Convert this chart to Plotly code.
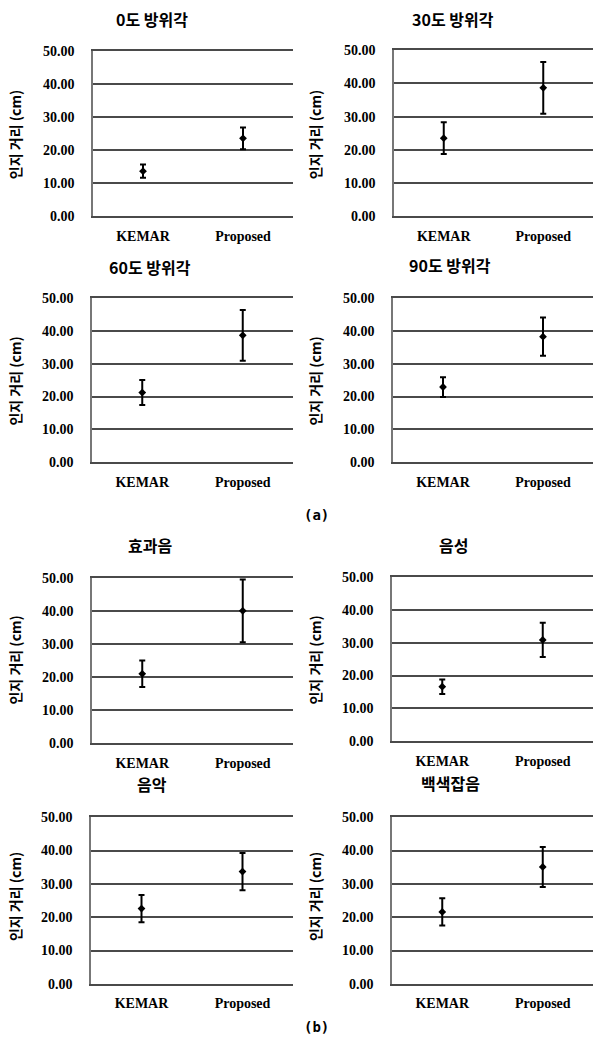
import plotly.graph_objects as go

# ---- data ----
titles = ["0도 방위각", "30도 방위각", "60도 방위각", "90도 방위각",
          "효과음", "음성", "음악", "백색잡음"]
categories = ["KEMAR", "Proposed"]
kemar_mean = [13.6, 23.5, 21.2, 22.9, 21.0, 16.6, 22.6, 21.6]
kemar_err = [2.0, 4.8, 3.8, 3.0, 4.0, 2.2, 4.1, 4.1]
proposed_mean = [23.6, 38.7, 38.6, 38.2, 40.0, 30.8, 33.7, 35.1]
proposed_err = [3.3, 7.8, 7.7, 5.8, 9.5, 5.2, 5.6, 6.0]
y_ticks = [0, 10, 20, 30, 40, 50]
y_title = "인지 거리 (cm)"
panel_labels = ["(a)", "(b)"]

# ---- layout geometry (pixels) ----
W, H = 598, 1051
boxes = [(93, 293, 45, 212), (394, 593, 44, 212),
         (92, 293, 295, 462), (393, 593, 295, 462),
         (92, 293, 579, 747), (392, 593, 578, 745),
         (91, 293, 822, 991), (392, 593, 822, 991)]
title_pos = [(152, 18), (453, 18), (150, 270), (450, 268),
             (150, 552), (453, 552), (152, 794), (450, 793)]
ytitle_pos = [(15, 130), (315, 130), (15, 380), (315, 380),
              (15, 663), (315, 663), (15, 903), (315, 903)]
label_pos = [(316, 519), (316, 1039)]
TEXT_DY = 6  # CJK glyph box sits lower than its anchor

KFONT = "Noto Sans CJK KR"
SFONT = "Liberation Serif"
LINE = "#4a4a4a"

fig = go.Figure()
annotations = []
layout = {}

for i in range(8):
    n = "" if i == 0 else str(i + 1)
    x0, x1, y0, y1 = boxes[i]
    fig.add_trace(go.Scatter(
        x=categories,
        y=[kemar_mean[i], proposed_mean[i]],
        error_y=dict(type="data", array=[kemar_err[i], proposed_err[i]],
                     color="black", thickness=2, width=3),
        mode="markers",
        marker=dict(symbol="diamond", size=6, color="black"),
        xaxis="x" + n, yaxis="y" + n, showlegend=False,
    ))
    layout["xaxis" + n] = dict(
        domain=[x0 / W, x1 / W], anchor="y" + n,
        type="category", range=[-0.5, 1.5],
        showgrid=False, showline=True, mirror=True,
        linecolor=LINE, linewidth=1.5,
        ticks="outside", ticklen=6, tickcolor="rgba(0,0,0,0)",
        tickfont=dict(family=SFONT, size=14, color="black", weight="bold"),
        fixedrange=True,
    )
    layout["yaxis" + n] = dict(
        domain=[1 - y1 / H, 1 - y0 / H], anchor="x" + n,
        range=[0, 50], tickvals=y_ticks, tickformat=".2f",
        showgrid=True, gridcolor=LINE, gridwidth=1.5,
        zeroline=False, showline=True, linecolor="#777", linewidth=1.5,
        ticks="outside", ticklen=14, tickcolor="rgba(0,0,0,0)",
        tickfont=dict(family=SFONT, size=14, color="black", weight="bold"),
        fixedrange=True,
    )
    tx, ty = title_pos[i]
    annotations.append(dict(
        text=titles[i], x=tx / W, y=1 - (ty - TEXT_DY) / H,
        xref="paper", yref="paper",
        showarrow=False, xanchor="center", yanchor="middle",
        font=dict(family=KFONT, size=16, color="black", weight="bold")))
    yx, yy = ytitle_pos[i]
    annotations.append(dict(
        text=y_title, x=yx / W, y=1 - yy / H, xref="paper", yref="paper",
        showarrow=False, xanchor="center", yanchor="middle", textangle=-90,
        font=dict(family=KFONT, size=14, color="black", weight="bold")))

for lbl, (lx, ly) in zip(panel_labels, label_pos):
    annotations.append(dict(
        text=lbl, x=lx / W, y=1 - (ly - 4) / H, xref="paper", yref="paper",
        showarrow=False, xanchor="center", yanchor="middle",
        font=dict(family="DejaVu Sans Mono", size=14, color="black", weight="bold")))

fig.update_layout(
    width=W, height=H, autosize=False,
    margin=dict(l=0, r=0, t=0, b=0),
    paper_bgcolor="white", plot_bgcolor="white",
    annotations=annotations,
    **layout,
)

fig.write_html(
    "out.html",
    config={"displayModeBar": False},
    post_script="document.body.style.margin='0';document.body.style.overflow='hidden';",
)
